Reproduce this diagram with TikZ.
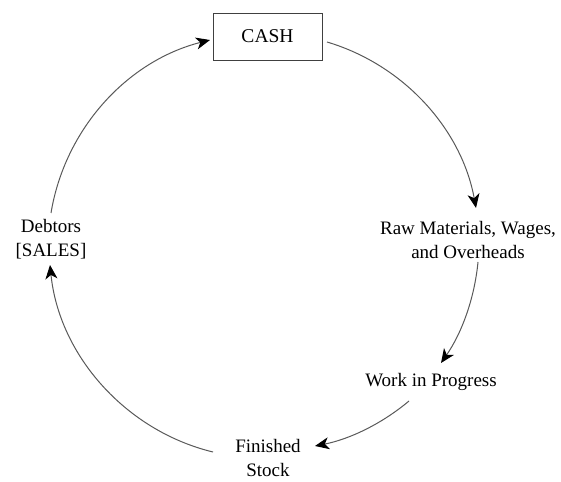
\documentclass[tikz,border=0pt]{standalone}
\usepackage{fontspec}
\setmainfont{Liberation Serif}
\usetikzlibrary{arrows.meta}

\begin{document}
\begin{tikzpicture}[x=1pt, y=1pt,
    label/.style={align=center, font=\fontsize{19}{23.5}\selectfont, inner sep=0pt},
    cashbox/.style={draw=black!75, line width=0.9pt, minimum width=109pt, minimum height=47pt,
                    font=\fontsize{19.5}{23}\selectfont, inner sep=0pt},
    flow/.style={draw=black!65, line width=1pt,
                 -{Stealth[length=14pt, width=12pt, inset=4pt, color=black, fill=black]}}]
  \useasboundingbox (0,0) rectangle (561,481);

  % stages of the cycle
  \node[cashbox] (cash) at (267.5,444.5) {CASH};
  \node[label]   (raw)  at (468,241) {Raw Materials, Wages,\\and Overheads};
  \node[label]   (wip)  at (431,99)  {Work in Progress};
  \node[label]   (fin)  at (268,23)  {Finished\\Stock};
  \node[label]   (deb)  at (51,242)  {Debtors\\{[SALES]}};

  % arcs of the cycle, all on one circle
  \draw[flow] ([shift={(59.5,-5.5)}]cash.center) to[bend left=31.5, looseness=0.92] ([shift={(8,32)}]raw.center);
  \draw[flow] ([shift={(10,-22)}]raw.center)     to[bend left=14.6, looseness=0.87] ([shift={(10,19)}]wip.center);
  \draw[flow] ([shift={(-22,-19)}]wip.center)    to[bend left=14.4, looseness=0.87] ([shift={(47,12)}]fin.center);
  \draw[flow] ([shift={(-55,6)}]fin.center)      to[bend left=35.3, looseness=0.93] ([shift={(-1,-26)}]deb.center);
  \draw[flow] ([shift={(0,26)}]deb.center)       to[bend left=33.2, looseness=0.93] ([shift={(-57.5,-3.5)}]cash.center);
\end{tikzpicture}
\end{document}
